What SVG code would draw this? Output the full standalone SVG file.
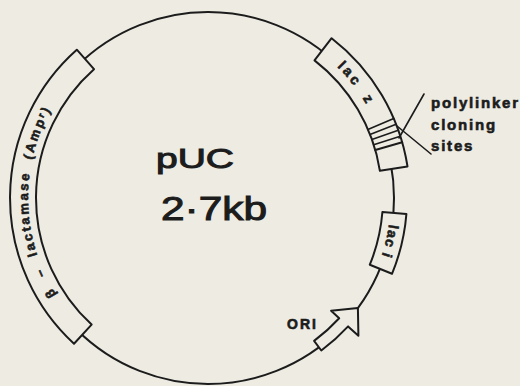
<svg xmlns="http://www.w3.org/2000/svg" width="520" height="386" viewBox="0 0 520 386">
  <style>
    .ln{fill:none;stroke:#1c1c1c;stroke-width:2;stroke-linejoin:round;stroke-linecap:round}
    .box{fill:#edebe2;stroke:#1c1c1c;stroke-width:2;stroke-linejoin:round}
    .thin{fill:none;stroke:#1c1c1c;stroke-width:1.6;stroke-linecap:round}
    .lbl{font-family:"Liberation Sans","DejaVu Sans",Arial,sans-serif;font-weight:bold;fill:#1c1c1c;stroke:#1c1c1c;stroke-width:0.6}
    .big{font-family:"Liberation Sans",Arial,sans-serif;fill:#1c1c1c;stroke:#1c1c1c;stroke-width:1}
  </style>
  <defs>
    <path id="pLact" d="M86.2,330.5 A180,180 0 0 1 88.7,63.2"/>
    <path id="pLacz" d="M320.6,52.4 A183,183 0 0 1 377.4,126.1"/>
    <path id="pLaci" d="M390.4,212.7 A183,183 0 0 1 377.2,267.7"/>
  </defs>
  <rect width="520" height="386" fill="#edebe2"/>

  <g id="backbone">
    <circle class="ln" cx="208" cy="198" r="186"/>
  </g>

  <g id="lactamase">
    <path class="box" d="M74.0,343.7 A198,198 0 0 1 76.8,49.7 L94.0,69.2 A172,172 0 0 0 91.6,324.6 Z"/>
    <text class="lbl" font-size="13" letter-spacing="2.4" word-spacing="6"><textPath href="#pLact" startOffset="48%" text-anchor="middle">β – lactamase (Ampʳ)</textPath></text>
  </g>

  <g id="lacz">
    <path class="box" d="M331.6,38.2 A202,202 0 0 1 407.5,166.4 L379.9,170.8 A174,174 0 0 0 314.5,60.4 Z"/>
    <line class="thin" x1="367.9" y1="129.5" x2="393.7" y2="118.4"/>
    <line class="thin" x1="370.0" y1="134.5" x2="396.1" y2="124.3"/>
    <line class="thin" x1="371.9" y1="139.6" x2="398.3" y2="130.2"/>
    <line class="thin" x1="373.7" y1="144.8" x2="400.3" y2="136.3"/>
    <line class="ln" x1="375.3" y1="150.0" x2="402.2" y2="142.3"/>
    <text class="lbl" font-size="14" letter-spacing="3" word-spacing="5"><textPath href="#pLacz" startOffset="50%" text-anchor="middle">lac z</textPath></text>
  </g>

  <g id="laci">
    <path class="box" d="M406.4,214.0 A199,199 0 0 1 392.0,273.8 L369.8,264.7 A175,175 0 0 0 382.4,212.0 Z"/>
    <text class="lbl" font-size="14" letter-spacing="1.2"><textPath href="#pLaci" startOffset="50%" text-anchor="middle">lac i</textPath></text>
  </g>

  <g id="ori">
    <path class="box" d="M321.3,350.5 L314.1,340.9 A178,178 0 0 0 339.2,318.3 L331.1,310.8 L357.9,308.1 L358.4,335.8 L348.1,326.4 A190,190 0 0 1 321.3,350.5 Z"/>
    <text class="lbl" x="287" y="329" font-size="14" letter-spacing="2">ORI</text>
  </g>

  <g id="title">
    <text class="big" x="156" y="168" font-size="28" textLength="78" lengthAdjust="spacingAndGlyphs">pUC</text>
    <text class="big" x="161" y="220" font-size="33" textLength="106" lengthAdjust="spacingAndGlyphs">2·7kb</text>
  </g>

  <g id="polylinker-label">
    <text class="lbl" x="431" y="108" font-size="15" letter-spacing="1.8">polylinker</text>
    <text class="lbl" x="431" y="130" font-size="15" letter-spacing="1.8">cloning</text>
    <text class="lbl" x="431" y="151" font-size="15" letter-spacing="1.8">sites</text>
  </g>

  <g id="connectors">
    <line class="thin" x1="424" y1="94" x2="399" y2="138"/>
    <line class="thin" x1="431" y1="154" x2="397" y2="126"/>
  </g>
</svg>
